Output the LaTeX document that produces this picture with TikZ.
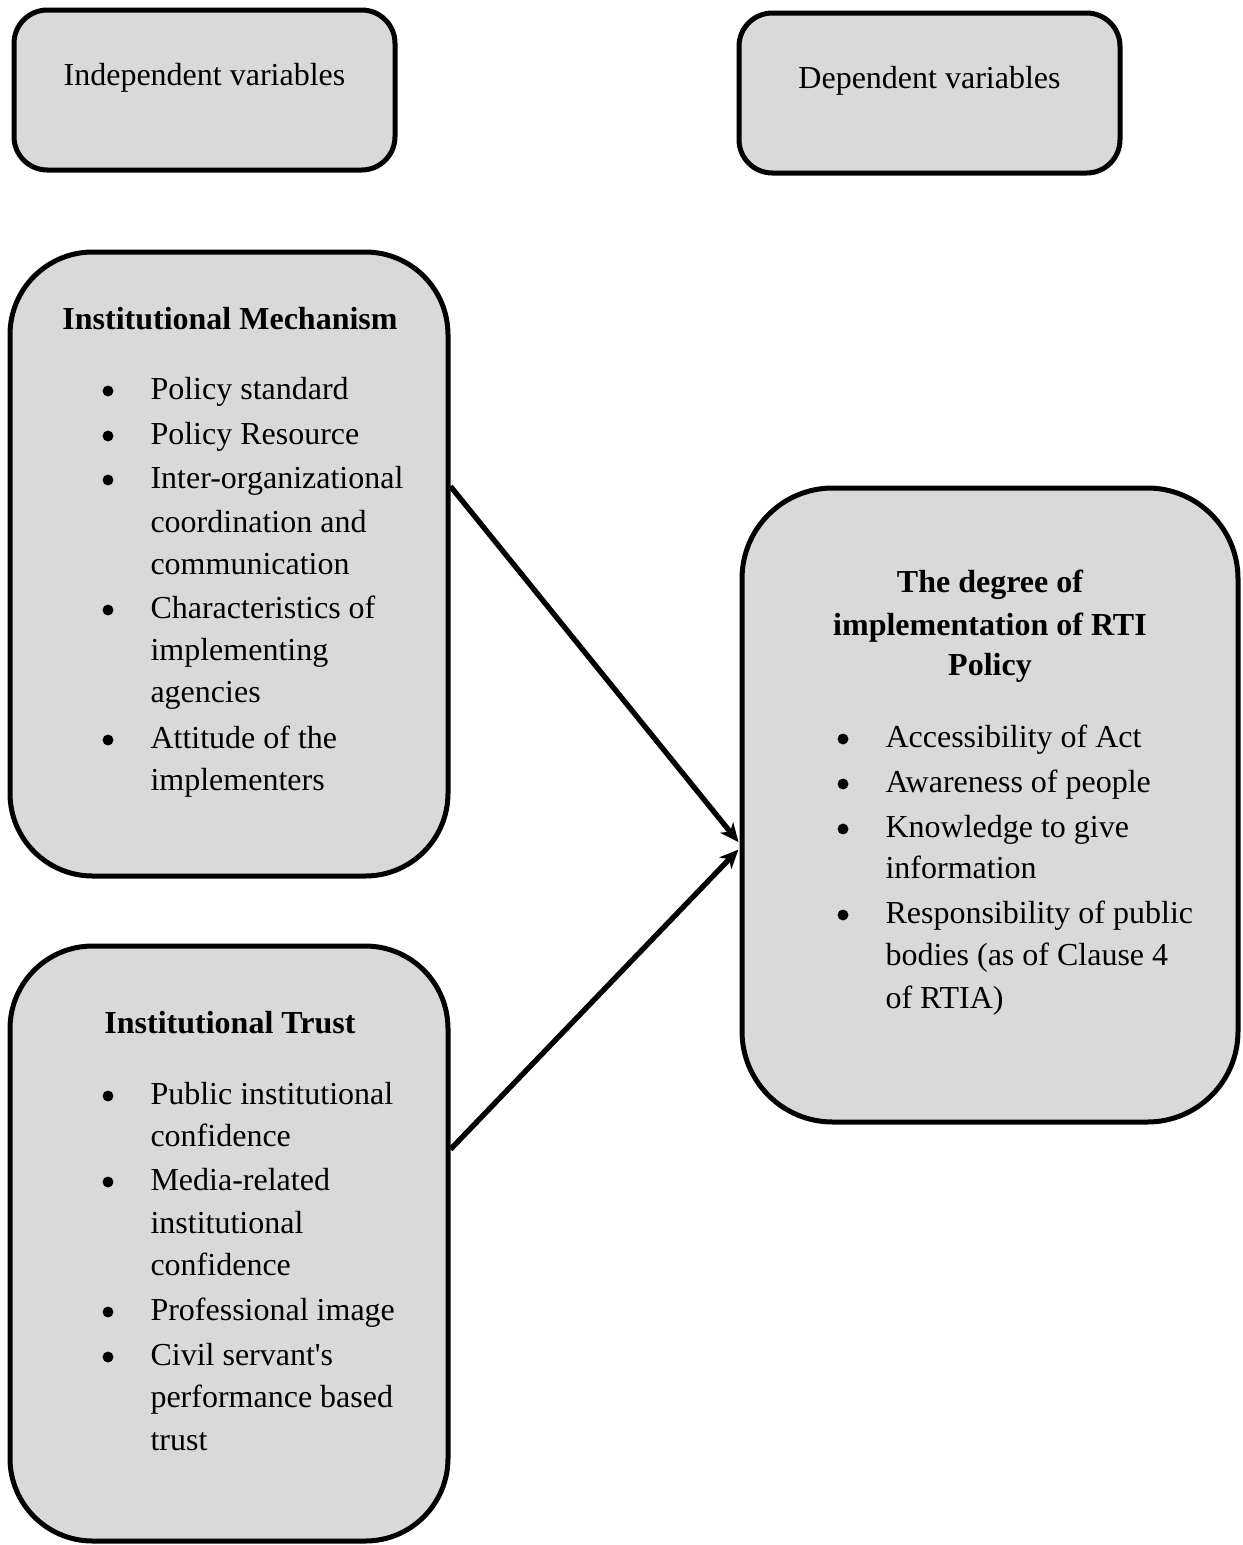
\documentclass[tikz,border=0pt]{standalone}
\usepackage{fontspec}
\setmainfont{Liberation Serif}
\usetikzlibrary{arrows.meta,calc}
\definecolor{boxfill}{HTML}{D9D9D9}
\begin{document}
\begin{tikzpicture}[x=0.375pt,y=-0.375pt,
  box/.style={draw=black, fill=boxfill, line width=1.875pt, rectangle, inner sep=0pt},
  txt/.style={inner sep=0pt, anchor=base west, font=\fontsize{12}{14}\selectfont},
  head/.style={inner sep=0pt, anchor=base, font=\fontsize{12}{14}\selectfont\bfseries},
  plain/.style={inner sep=0pt, anchor=base, font=\fontsize{12}{14}\selectfont},
  bul/.style={circle, fill=black, inner sep=0pt, minimum size=4.1pt},
  conn/.style={line width=2pt, -{Stealth[length=7pt,width=6.2pt,inset=2pt]}, shorten >=0.6pt}
]
\useasboundingbox (0,0) rectangle (1243,1545);

% boxes
\node[box, rounded corners=12.5pt, minimum width={381*0.375pt}, minimum height={160*0.375pt}] (A) at (204.5,90) {};
\node[box, rounded corners=12.5pt, minimum width={381*0.375pt}, minimum height={160*0.375pt}] (B) at (929.5,93) {};
\node[box, rounded corners=31pt, minimum width={438*0.375pt}, minimum height={624*0.375pt}] (C) at (229,564) {};
\node[box, rounded corners=31pt, minimum width={438*0.375pt}, minimum height={595*0.375pt}] (D) at (229,1243.5) {};
\node[box, rounded corners=34pt, minimum width={496*0.375pt}, minimum height={634*0.375pt}] (E) at (990,805) {};

% top labels
\node[plain] (At) at (204.5,85) {Independent variables};
\node[plain] (Bt) at (929.5,88) {Dependent variables};

% box C
\node[head] (Ch) at (230,329) {Institutional Mechanism};
\foreach \yy [count=\i] in {399,444,488,618,748}
  \node[bul] (cb\i) at (108,\yy-8) {};
\foreach \txtline/\yy [count=\i] in {Policy standard/399, Policy Resource/444,
  Inter-organizational/488, coordination and/532, communication/574,
  Characteristics of/618, implementing/660, agencies/702,
  Attitude of the/748, implementers/790}
  \node[txt] (cl\i) at (150,\yy) {\txtline};

% box D
\node[head] (Dh) at (230,1033) {Institutional Trust};
\foreach \yy [count=\i] in {1104,1190,1320,1365}
  \node[bul] (db\i) at (108,\yy-8) {};
\foreach \txtline/\yy [count=\i] in {Public institutional/1104, confidence/1146,
  Media-related/1190, institutional/1233, confidence/1275,
  Professional image/1320, Civil servant\textquotesingle s/1365,
  performance based/1407, trust/1450}
  \node[txt] (dl\i) at (150,\yy) {\txtline};

% box E
\node[head] (Eh1) at (990,592) {The degree of};
\node[head] (Eh2) at (990,635) {implementation of RTI};
\node[head] (Eh3) at (990,675) {Policy};
\foreach \yy [count=\i] in {747,792,837,923}
  \node[bul] (eb\i) at (843,\yy-8) {};
\foreach \txtline/\yy [count=\i] in {Accessibility of Act/747, Awareness of people/792,
  Knowledge to give/837, information/878, Responsibility of public/923,
  bodies (as of Clause 4/965, of RTIA)/1008}
  \node[txt] (el\i) at (885,\yy) {\txtline};

% connectors
\draw[conn] ($(C.north east)!0.3766!(C.south east)$) -- ($(E.north west)!0.56!(E.south west)$);
\draw[conn] ($(D.north east)!0.343!(D.south east)$) -- ($(E.north west)!0.568!(E.south west)$);
\end{tikzpicture}
\end{document}
